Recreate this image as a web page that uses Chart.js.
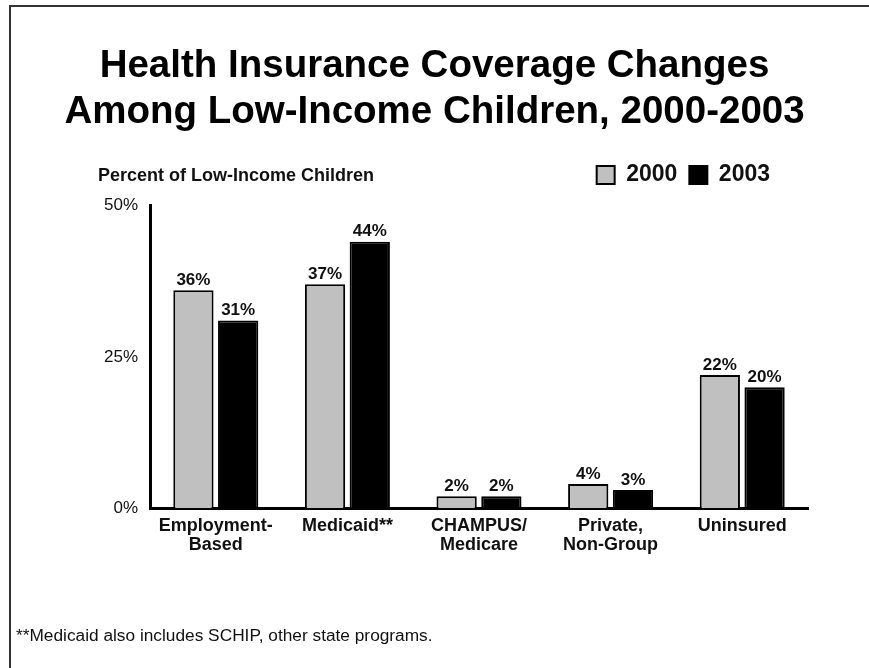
<!DOCTYPE html>
<html>
<head>
<meta charset="utf-8">
<script src="https://cdn.jsdelivr.net/npm/chart.js@4"></script>
<style>
  html, body { margin: 0; padding: 0; background: #fff; }
</style>
</head>
<body>
<canvas id="myChart" width="869" height="668"></canvas>
<script>
// data
const categories = [['Employment-', 'Based'], 'Medicaid**', ['CHAMPUS/', 'Medicare'], ['Private,', 'Non-Group'], 'Uninsured'];
const values2000 = [36, 37, 2, 4, 22];
const values2003 = [31, 44, 2, 3, 20];
const yTicks = [0, 25, 50];
const titleLines = ['Health Insurance Coverage Changes', 'Among Low-Income Children, 2000-2003'];
const axisTitle = 'Percent of Low-Income Children';
const footnote = '**Medicaid also includes SCHIP, other state programs.';

const FONT = 'Arial, "Liberation Sans", sans-serif';

// frame lines, y axis caption and footnote
const pageDecor = {
    id: 'pageDecor',
    beforeDraw(chart) {
        const ctx = chart.ctx;
        ctx.save();
        ctx.fillStyle = '#fff';
        ctx.fillRect(0, 0, chart.width, chart.height);
        ctx.strokeStyle = '#333';
        ctx.lineWidth = 2;
        ctx.beginPath();
        ctx.moveTo(10, chart.height);
        ctx.lineTo(10, 6);
        ctx.lineTo(chart.width, 6);
        ctx.stroke();
        ctx.restore();
    },
    afterLayout(chart) {
        // pull the legend in from the right edge
        chart.legend.right -= 87;
    },
    afterDraw(chart) {
        const ctx = chart.ctx;
        const hb = chart.legend.legendHitBoxes[0];
        ctx.save();
        ctx.fillStyle = '#111';
        ctx.textBaseline = 'middle';
        ctx.font = 'bold 18px ' + FONT;
        ctx.fillText(axisTitle, 98, hb.top + hb.height / 2 + 1);
        ctx.font = '17.3px ' + FONT;
        ctx.fillText(footnote, 16, 636);
        ctx.restore();
    }
};

// value labels above the bars
const barValueLabels = {
    id: 'barValueLabels',
    afterDatasetsDraw(chart) {
        const ctx = chart.ctx;
        ctx.save();
        ctx.font = 'bold 17px ' + FONT;
        ctx.fillStyle = '#111';
        ctx.textAlign = 'center';
        chart.data.datasets.forEach((ds, i) => {
            chart.getDatasetMeta(i).data.forEach((bar, j) => {
                ctx.fillText(ds.data[j] + '%', bar.x, bar.y - 10);
            });
        });
        ctx.restore();
    }
};

const data = {
    labels: categories,
    datasets: [{
        label: '2000',
        data: values2000,
        backgroundColor: '#c0c0c0',
        borderColor: '#000',
        borderWidth: 2,
        yAxisID: 'y'
    }, {
        label: '2003',
        data: values2003,
        backgroundColor: '#000',
        borderColor: '#000',
        borderWidth: 2,
        yAxisID: 'y'
    }]
};

const config = {
    type: 'bar',
    data,
    options: {
        responsive: false,
        devicePixelRatio: 1,
        animation: false,
        categoryPercentage: 0.68,
        barPercentage: 0.9,
        layout: { padding: { top: 0, left: 0, right: 0, bottom: 105 } },
        scales: {
            x: {
                grid: { display: false, drawTicks: false },
                border: { color: '#000', width: 3 },
                ticks: {
                    color: '#111',
                    padding: 9,
                    maxRotation: 0,
                    autoSkip: false,
                    font: { family: FONT, size: 18, weight: 'bold', lineHeight: 1.02 }
                }
            },
            xPad: {
                position: 'top',
                grid: { display: false },
                border: { display: false },
                ticks: { display: false },
                afterFit: (s) => { s.height = 9; }
            },
            y: {
                min: 0,
                max: 50,
                afterBuildTicks: (s) => { s.ticks = yTicks.map(v => ({ value: v })); },
                grid: { display: false, drawTicks: false },
                border: { color: '#000', width: 3 },
                ticks: {
                    color: '#111',
                    padding: 12,
                    callback: (v) => v + '%',
                    font: { family: FONT, size: 17 }
                },
                afterFit: (s) => { s.width = 150; }
            },
            yPad: {
                position: 'right',
                grid: { display: false },
                border: { display: false },
                ticks: { display: false },
                afterFit: (s) => { s.width = 61; }
            }
        },
        plugins: {
            title: {
                display: true,
                text: titleLines,
                color: '#000',
                font: { family: FONT, size: 38.5, weight: 'bold', lineHeight: 1.2 },
                padding: { top: 43, bottom: 16 }
            },
            legend: {
                position: 'top',
                align: 'end',
                labels: {
                    color: '#111',
                    boxWidth: 18,
                    boxHeight: 18,
                    padding: 12,
                    font: { family: FONT, size: 23, weight: 'bold' }
                }
            },
            tooltip: { enabled: false }
        }
    },
    plugins: [pageDecor, barValueLabels]
};

const myChart = new Chart(document.getElementById('myChart'), config);
</script>
</body>
</html>
